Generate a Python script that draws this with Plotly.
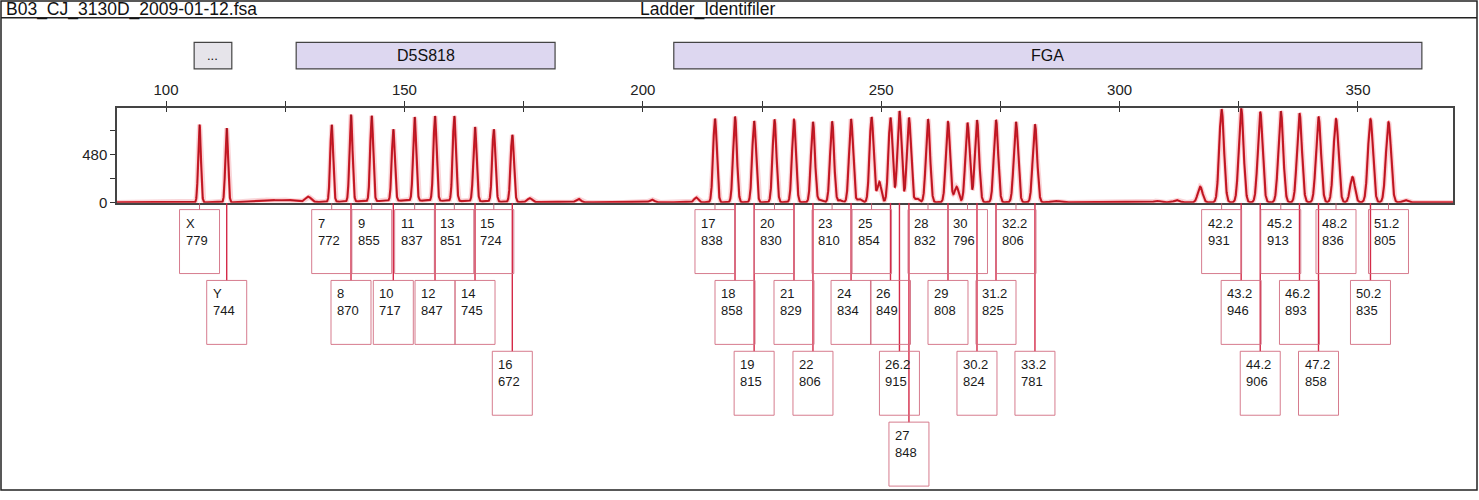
import numpy as np
import plotly.graph_objects as go

W, H = 1479, 500

# ---- values ----
sample_name = "B03_CJ_3130D_2009-01-12.fsa"
panel_name = "Ladder_Identifiler"

marker_names = ["...", "D5S818", "FGA"]
marker_start = [105.9, 127.3, 206.5]
marker_end = [113.8, 181.6, 363.4]

allele_names = [
    "X", "Y",
    "7", "8", "9", "10", "11", "12", "13", "14", "15", "16",
    "17", "18", "19", "20", "21", "22", "23", "24", "25", "26", "26.2", "27",
    "28", "29", "30", "30.2", "31.2", "32.2", "33.2",
    "42.2", "43.2", "44.2", "45.2", "46.2", "47.2", "48.2", "50.2", "51.2",
]
allele_bp = [
    107.03, 112.73,
    134.75, 138.80, 143.14, 147.67, 152.15, 156.42, 160.47, 164.81, 168.75, 172.63,
    215.14, 219.34, 223.35, 227.62, 231.71, 235.69, 239.70, 243.68, 247.98, 251.95, 253.83, 255.82,
    259.82, 264.01, 268.10, 270.09, 274.08, 278.27, 282.25,
    321.40, 325.50, 329.50, 333.81, 337.73, 341.72, 345.39, 352.62, 356.40,
]
allele_rfu = [
    779, 744,
    772, 870, 855, 717, 837, 847, 851, 745, 724, 672,
    838, 858, 815, 830, 829, 806, 810, 834, 854, 849, 915, 848,
    832, 808, 796, 824, 825, 806, 781,
    931, 946, 906, 913, 893, 858, 836, 835, 805,
]

# small unlabelled peaks and baseline humps: position, height, width (bp)
minor_bp = [117.5, 121.5, 125.5, 129.8, 153.0, 176.3, 186.5, 201.9, 211.2, 237.2, 241.4,
            245.4, 249.6, 257.5, 265.8, 286.5, 307.8, 312.0, 316.9, 348.85, 359.9]
minor_rfu = [15, 25, 22, 55, 18, 40, 35, 28, 50, 25, 22,
             35, 206, 40, 157, 15, 15, 22, 157, 255, 25]
minor_width = [1.5, 1.5, 1.5, 0.6, 12.0, 0.5, 0.5, 0.5, 0.45, 0.45, 0.45,
               0.45, 0.42, 0.45, 0.45, 0.8, 0.6, 0.6, 0.5, 0.5, 0.5]

x_ticks = [100, 150, 200, 250, 300, 350]
x_minor_ticks = [100, 125, 150, 175, 200, 225, 250, 275, 300, 325, 350]
y_ticks = [0, 480]
y_minor_ticks = [240, 720]

# ---- layout in pixels ----
PLOT_L, PLOT_R, PLOT_T, PLOT_B = 117, 1453, 110, 206
X_RANGE = [89.72, 369.93]
Y_RANGE = [-3, 943]
PX_PER_BP = (PLOT_R - PLOT_L) / (X_RANGE[1] - X_RANGE[0])
BOX_W, BOX_H, ROW_GAP, ROW0 = 40, 65, 72, 7
HALF_BP = BOX_W / 2 / PX_PER_BP

FONT = "Arial, Liberation Sans, sans-serif"


def px_x(p):
    return p / W


def px_y(p):
    return 1 - p / H


def peak_sigma(bp):
    return 0.28 + (bp - 107) * 0.001


def assign_rows(positions, half, tol=0.15):
    """stack label boxes: first row where the box does not collide"""
    row_right, rows = [], []
    for p in positions:
        for r, right in enumerate(row_right):
            if p - half >= right - tol:
                row_right[r] = p + half
                rows.append(r)
                break
        else:
            row_right.append(p + half)
            rows.append(len(row_right) - 1)
    return rows


grid = np.arange(X_RANGE[0], X_RANGE[1], 0.02)
signal = np.zeros_like(grid)
for p, h in zip(allele_bp, allele_rfu):
    signal += h * np.exp(-0.5 * ((grid - p) / peak_sigma(p)) ** 2)
for p, h, s in zip(minor_bp, minor_rfu, minor_width):
    signal += h * np.exp(-0.5 * ((grid - p) / s) ** 2)

fig = go.Figure()
fig.add_trace(go.Scatter(x=grid, y=signal, mode="lines",
                         line=dict(color="rgba(235,120,130,0.3)", width=5),
                         hoverinfo="skip", xaxis="x", yaxis="y"))
fig.add_trace(go.Scatter(x=grid, y=signal, mode="lines",
                         line=dict(color="#e0202c", width=2.2),
                         hoverinfo="skip", xaxis="x", yaxis="y"))
fig.add_trace(go.Scatter(x=grid, y=signal, mode="lines",
                         line=dict(color="rgba(80,10,20,0.55)", width=0.7),
                         hoverinfo="skip", xaxis="x", yaxis="y"))
# inner half of the crossing ticks on the top axis
fig.add_trace(go.Scatter(x=[], y=[], xaxis="x3", yaxis="y", showlegend=False))

rows = assign_rows(allele_bp, HALF_BP)
short_x, short_y, long_x, long_y = [], [], [], []
shapes = []
annotations = []
for name, p, h, r in zip(allele_names, allele_bp, allele_rfu, rows):
    top = ROW0 + r * ROW_GAP
    if r == 0:
        short_x += [p, p, None]
        short_y += [0, top, None]
    else:
        long_x += [p, p, None]
        long_y += [0, top, None]
    shapes.append(dict(type="rect", xref="x2", yref="y2",
                       x0=p - HALF_BP, x1=p + HALF_BP, y0=top, y1=top + BOX_H,
                       line=dict(color="rgba(210,110,130,0.9)", width=1),
                       fillcolor="rgba(255,255,255,0)", layer="above"))
    annotations.append(dict(xref="x2", yref="y2", x=p - HALF_BP, y=top,
                            xanchor="left", yanchor="top", xshift=4, yshift=-4,
                            text=f"{name}<br>{h}", showarrow=False, align="left",
                            font=dict(family=FONT, size=13, color="#1a1a1a")))

fig.add_trace(go.Scatter(x=short_x, y=short_y, mode="lines",
                         line=dict(color="rgba(190,90,110,0.9)", width=1),
                         hoverinfo="skip", xaxis="x2", yaxis="y2"))
fig.add_trace(go.Scatter(x=long_x, y=long_y, mode="lines",
                         line=dict(color="#d42a48", width=1.4),
                         hoverinfo="skip", xaxis="x2", yaxis="y2"))

# outer frame and header
shapes.append(dict(type="rect", xref="paper", yref="paper",
                   x0=px_x(1), x1=px_x(1477), y0=px_y(498), y1=px_y(1),
                   line=dict(color="#222", width=1.5), layer="above"))
shapes.append(dict(type="line", xref="paper", yref="paper",
                   x0=px_x(1), x1=px_x(1477), y0=px_y(18), y1=px_y(18),
                   line=dict(color="#222", width=1.5)))
annotations.append(dict(xref="paper", yref="paper", x=px_x(4), y=px_y(9.5),
                        xanchor="left", yanchor="middle", text=sample_name,
                        showarrow=False, font=dict(family=FONT, size=17.5, color="#111")))
annotations.append(dict(xref="paper", yref="paper", x=px_x(707), y=px_y(9.5),
                        xanchor="center", yanchor="middle", text=panel_name,
                        showarrow=False, font=dict(family=FONT, size=17.5, color="#111")))

# marker bins
for name, s, e in zip(marker_names, marker_start, marker_end):
    fill = "#e6e4ea" if name == "..." else "#ddd7f0"
    shapes.append(dict(type="rect", xref="x", yref="paper", x0=s, x1=e,
                       y0=px_y(70), y1=px_y(43), fillcolor=fill,
                       line=dict(color="#444", width=1.2), layer="above"))
    annotations.append(dict(xref="x", yref="paper", x=(s + e) / 2, y=px_y(56.5),
                            xanchor="center", yanchor="middle", text=name,
                            showarrow=False,
                            font=dict(family=FONT, size=16 if name != "..." else 13,
                                      color="#111")))

dom_x = [px_x(PLOT_L), px_x(PLOT_R)]
fig.update_layout(
    width=W, height=H,
    margin=dict(l=0, r=0, t=0, b=0),
    paper_bgcolor="white", plot_bgcolor="white",
    showlegend=False,
    font=dict(family=FONT, size=15, color="#222"),
    shapes=shapes, annotations=annotations,
    xaxis=dict(domain=dom_x, range=X_RANGE, side="top", anchor="y",
               tickmode="array", tickvals=x_ticks, ticks="outside", ticklen=5,
               tickwidth=1.2, tickcolor="#333",
               minor=dict(tickmode="array", tickvals=x_minor_ticks, ticks="outside",
                          ticklen=5, tickwidth=1.2, tickcolor="#333", showgrid=False),
               showline=True, mirror=True, linecolor="#444", linewidth=1.5,
               showgrid=False, zeroline=False, tickfont=dict(size=15)),
    xaxis3=dict(domain=dom_x, matches="x", overlaying="x", anchor="y", side="top",
                tickmode="array", tickvals=x_minor_ticks, ticks="inside", ticklen=4,
                tickwidth=1.2, tickcolor="#333", showticklabels=False,
                showline=False, showgrid=False, zeroline=False),
    yaxis=dict(domain=[px_y(PLOT_B), px_y(PLOT_T)], range=Y_RANGE, anchor="x",
               tickmode="array", tickvals=y_ticks, ticks="outside", ticklen=5,
               tickwidth=1.2, tickcolor="#333",
               minor=dict(tickmode="array", tickvals=y_minor_ticks, ticks="outside",
                          ticklen=5, tickwidth=1.2, tickcolor="#333", showgrid=False),
               showline=True, mirror=True, linecolor="#444", linewidth=1.5,
               showgrid=False, zeroline=False, tickfont=dict(size=15)),
    xaxis2=dict(domain=dom_x, matches="x", anchor="y2", visible=False),
    yaxis2=dict(domain=[0, px_y(PLOT_B)], range=[H - PLOT_B, 0], anchor="x2",
                visible=False),
)

page_fix = (
    "document.documentElement.style.margin='0';"
    "document.body.style.margin='0';"
    "document.documentElement.style.overflow='hidden';"
    "document.body.style.overflow='hidden';"
)
fig.write_html("out.html", config={"displayModeBar": False}, post_script=page_fix)
